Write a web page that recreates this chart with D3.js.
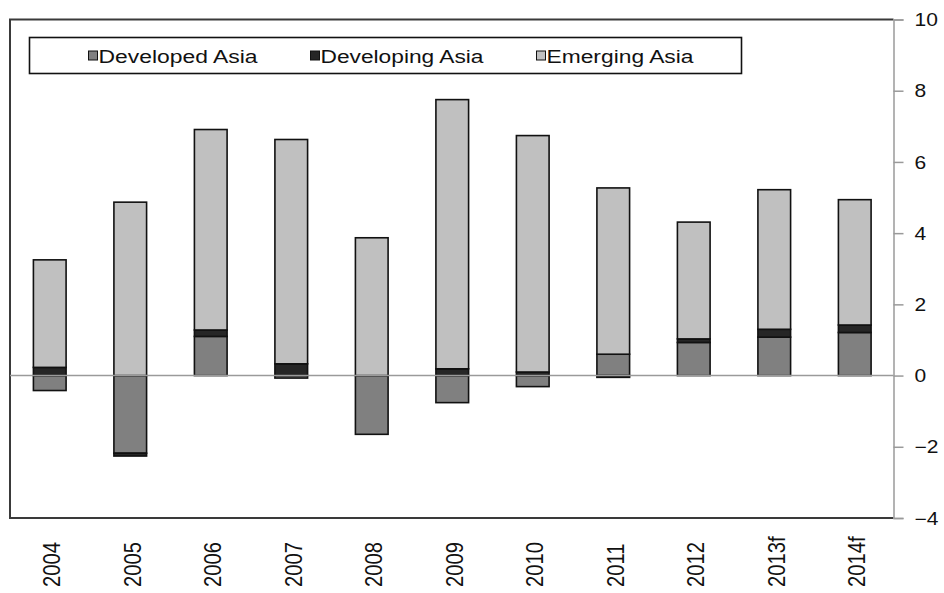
<!DOCTYPE html>
<html>
<head>
<meta charset="utf-8">
<script src="https://cdn.jsdelivr.net/npm/d3@7/dist/d3.min.js"></script>
<style>
  html, body { margin: 0; padding: 0; background: #fff; }
  svg { display: block; font-family: "Liberation Sans", Arial, sans-serif; }
</style>
</head>
<body>
<svg id="chart" width="944" height="593"></svg>
<script>
// Contribution to growth by region, percentage points
const years = ["2004", "2005", "2006", "2007", "2008", "2009", "2010", "2011", "2012", "2013f", "2014f"];
const seriesNames = ["Developed Asia", "Developing Asia", "Emerging Asia"];
const developedAsia  = [-0.42, -2.18, 1.10, -0.07, -1.65, -0.76, -0.31, 0.60, 0.93, 1.08, 1.21];
const developingAsia = [ 0.23, -0.08, 0.18,  0.33,  0.00,  0.19,  0.10, -0.05, 0.10, 0.22, 0.21];
const emergingAsia   = [ 3.02,  4.87, 5.63,  6.30,  3.87,  7.56,  6.64, 4.67, 3.28, 3.92, 3.52];
const yTicks = [-4, -2, 0, 2, 4, 6, 8, 10];

const colors = { "Developed Asia": "#808080", "Developing Asia": "#262626", "Emerging Asia": "#c0c0c0" };

// text in this chart is set slightly wide
const textStretch = 1.2;

const svg = d3.select("#chart");

// plot frame
const L = 10, R = 893.5, T = 19.5, B = 518;

const rows = years.map((yr, i) => ({
  year: yr,
  "Developed Asia": developedAsia[i],
  "Developing Asia": developingAsia[i],
  "Emerging Asia": emergingAsia[i]
}));

const x = d3.scaleBand().domain(years).range([9.5, 895])
  .paddingInner(0.594).paddingOuter(0.297);
const y = d3.scaleLinear().domain([-4, 10]).range([B, T]);

const stacked = d3.stack().keys(seriesNames).offset(d3.stackOffsetDiverging)(rows);

// frame: left, top, bottom edges
svg.append("path")
  .attr("d", `M${R},${T}H${L}V${B}H${R}`)
  .attr("fill", "none").attr("stroke", "#3a3a3a").attr("stroke-width", 2);

// bars
svg.append("g").selectAll("g").data(stacked).join("g")
  .attr("fill", d => colors[d.key])
  .selectAll("rect").data(d => d).join("rect")
  .attr("x", d => x(d.data.year))
  .attr("width", x.bandwidth())
  .attr("y", d => y(Math.max(d[0], d[1])))
  .attr("height", d => Math.abs(y(d[0]) - y(d[1])))
  .attr("stroke", "#111")
  .attr("stroke-width", 1.6);

// zero line
svg.append("line")
  .attr("x1", L).attr("x2", R)
  .attr("y1", y(0)).attr("y2", y(0))
  .attr("stroke", "#9a9a9a").attr("stroke-width", 1.5);

// right value axis
const yAxis = svg.append("g")
  .attr("transform", `translate(${R},0)`)
  .call(d3.axisRight(y).tickValues(yTicks).tickSize(10).tickFormat(d3.format("d")));
yAxis.select(".domain").attr("stroke", "#9a9a9a").attr("stroke-width", 1.5);
yAxis.selectAll(".tick line").attr("stroke", "#9a9a9a").attr("stroke-width", 1.5);
yAxis.selectAll(".tick text")
  .attr("x", 0)
  .attr("transform", `translate(21,0) scale(${textStretch},1)`)
  .attr("text-anchor", "start")
  .attr("fill", "#111")
  .attr("font-size", 17.5)
  .attr("font-family", "Liberation Sans, Arial, sans-serif")
  .attr("dy", "0.35em");

// category labels, rotated to read upward
svg.append("g").selectAll("text").data(years).join("text")
  .attr("transform", d => `translate(${x(d) + x.bandwidth() / 2 + 2},587) scale(${textStretch},1) rotate(-90)`)
  .attr("text-anchor", "start")
  .attr("dy", "0.36em")
  .attr("font-size", 20.2)
  .attr("fill", "#111")
  .text(d => d);

// legend
const legend = svg.append("g");
legend.append("rect")
  .attr("x", 29.5).attr("y", 37.5).attr("width", 712).attr("height", 36)
  .attr("fill", "#fff").attr("stroke", "#111").attr("stroke-width", 1.6);

const legendItems = [
  { name: "Developed Asia", mx: 88.5, tx: 98.5, tw: 159 },
  { name: "Developing Asia", mx: 310.5, tx: 320.5, tw: 163 },
  { name: "Emerging Asia", mx: 536.5, tx: 546.5, tw: 147 }
];
const li = legend.selectAll("g.item").data(legendItems).join("g").attr("class", "item");
li.append("rect")
  .attr("x", d => d.mx).attr("y", 51).attr("width", 9).attr("height", 9)
  .attr("fill", d => colors[d.name]).attr("stroke", "#111").attr("stroke-width", 1);
li.append("text")
  .attr("x", d => d.tx).attr("y", 63)
  .attr("font-size", 17.5)
  .attr("fill", "#111")
  .attr("textLength", d => d.tw)
  .attr("lengthAdjust", "spacingAndGlyphs")
  .text(d => d.name);
</script>
</body>
</html>
